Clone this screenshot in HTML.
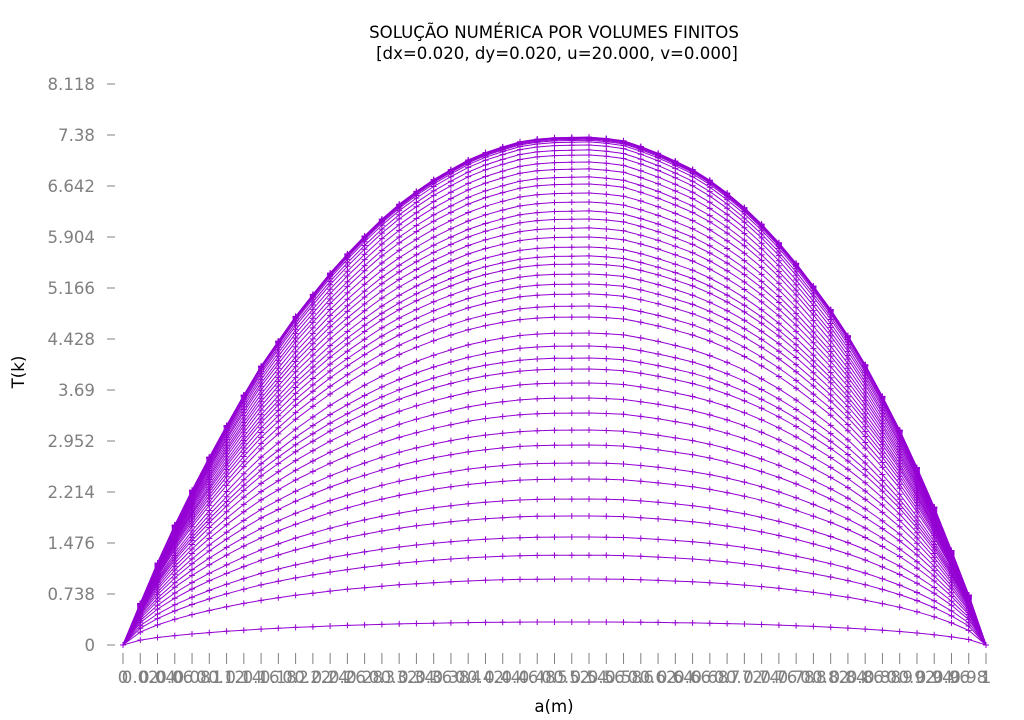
<!DOCTYPE html>
<html><head><meta charset="utf-8"><style>
html,body{margin:0;padding:0;background:#fff;}
svg{display:block;font-family:"DejaVu Sans","Liberation Sans",sans-serif;}
</style></head><body>
<svg id="chart" width="1024" height="720" viewBox="0 0 1024 720" xmlns="http://www.w3.org/2000/svg">
<text x="554" y="38" text-anchor="middle" font-size="16.6" fill="#000">SOLUÇÃO NUMÉRICA POR VOLUMES FINITOS</text>
<text x="557" y="59" text-anchor="middle" font-size="16.6" fill="#000">[dx=0.020, dy=0.020, u=20.000, v=0.000]</text>
<text x="0" y="0" transform="translate(24,372) rotate(-90)" text-anchor="middle" font-size="16.6" fill="#000">T(k)</text>
<text x="554" y="712" text-anchor="middle" font-size="16.6" fill="#000">a(m)</text>
<g id="axes"></g>
<g id="series"></g>
</svg>
<script>
const yTicks = [0, 0.738, 1.476, 2.214, 2.952, 3.69, 4.428, 5.166, 5.904, 6.642, 7.38, 8.118];
const yTickLabels = ["0","0.738","1.476","2.214","2.952","3.69","4.428","5.166","5.904","6.642","7.38","8.118"];
const xPositions = [0,0.02,0.04,0.06,0.08,0.1,0.12,0.14,0.16,0.18,0.2,0.22,0.24,0.26,0.28,0.3,0.32,0.34,0.36,0.38,0.4,0.42,0.44,0.46,0.48,0.5,0.52,0.54,0.56,0.58,0.6,0.62,0.64,0.66,0.68,0.7,0.72,0.74,0.76,0.78,0.8,0.82,0.84,0.86,0.88,0.9,0.92,0.94,0.96,0.98,1];
const xTickLabels = ["0","0.02","0.04","0.06","0.08","0.1","0.12","0.14","0.16","0.18","0.2","0.22","0.24","0.26","0.28","0.3","0.32","0.34","0.36","0.38","0.4","0.42","0.44","0.46","0.48","0.5","0.52","0.54","0.56","0.58","0.6","0.62","0.64","0.66","0.68","0.7","0.72","0.74","0.76","0.78","0.8","0.82","0.84","0.86","0.88","0.9","0.92","0.94","0.96","0.98","1"];
// steady-state (top) profile
const steadyProfile = [0,0.601,1.187,1.734,2.238,2.717,3.176,3.616,4.036,4.398,4.755,5.073,5.381,5.659,5.918,6.163,6.378,6.564,6.735,6.881,7.018,7.125,7.208,7.281,7.320,7.340,7.345,7.350,7.330,7.296,7.213,7.115,7.003,6.881,6.725,6.539,6.329,6.090,5.821,5.523,5.195,4.853,4.476,4.056,3.597,3.108,2.566,1.994,1.368,0.723,0];
// peak value of each time-step curve
const curvePeaks = [0.333,0.955,1.30,1.563,1.867,2.113,2.402,2.634,2.894,3.111,3.357,3.574,3.792,3.994,4.153,4.327,4.515,4.747,4.906,5.080,5.224,5.369,5.514,5.630,5.760,5.904,6.035,6.165,6.281,6.411,6.541,6.671,6.773,6.889,6.990,7.091,7.164,7.236,7.280,7.305,7.320,7.333,7.341,7.347,7.350];

const NS = "http://www.w3.org/2000/svg";
const X0 = 123, XW = 863, Y0 = 645, YS = 561/8.118;
function xs(x){ return X0 + x*XW; }
function ys(v){ return Y0 - v*YS; }
const axes = document.getElementById('axes');
const series = document.getElementById('series');

yTicks.forEach((t,i)=>{
  const ln = document.createElementNS(NS,'line');
  ln.setAttribute('x1',107); ln.setAttribute('x2',115);
  ln.setAttribute('y1',ys(t)); ln.setAttribute('y2',ys(t));
  ln.setAttribute('stroke','#808080'); ln.setAttribute('stroke-width','1');
  
  
  axes.appendChild(ln);
  const tx = document.createElementNS(NS,'text');
  tx.setAttribute('x',95); tx.setAttribute('y',ys(t)+6);
  tx.setAttribute('text-anchor','end'); tx.setAttribute('font-size','16.6'); tx.setAttribute('fill','#808080');
  tx.textContent = yTickLabels[i];
  
  
  axes.appendChild(tx);
});
xPositions.forEach((x,i)=>{
  const ln = document.createElementNS(NS,'line');
  ln.setAttribute('x1',xs(x)); ln.setAttribute('x2',xs(x));
  ln.setAttribute('y1',653); ln.setAttribute('y2',664);
  ln.setAttribute('stroke','#808080'); ln.setAttribute('stroke-width','1');
  
  
  axes.appendChild(ln);
  const tx = document.createElementNS(NS,'text');
  tx.setAttribute('x',xs(x)); tx.setAttribute('y',683);
  tx.setAttribute('text-anchor','middle'); tx.setAttribute('font-size','16.6'); tx.setAttribute('fill','#808080');
  tx.textContent = xTickLabels[i];
  
  
  axes.appendChild(tx);
});
const corner = document.createElementNS(NS,'path');
corner.setAttribute('d','M107 '+Y0+' H115 M'+X0+' 653 V664');
corner.setAttribute('stroke','#808080'); corner.setAttribute('fill','none');


axes.appendChild(corner);

const smax = Math.max(...steadyProfile);
curvePeaks.forEach((pk,k)=>{
  const p = 0.6 + 0.4*(pk/smax);
  const vals = steadyProfile.map(s => pk * Math.pow(Math.max(s,0)/smax, p));
  const pts = xPositions.map((x,i)=>[xs(x), ys(vals[i])]);
  const pl = document.createElementNS(NS,'polyline');
  pl.setAttribute('points', pts.map(q=>q[0].toFixed(1)+','+q[1].toFixed(1)).join(' '));
  pl.setAttribute('fill','none'); pl.setAttribute('stroke','#9400d3'); pl.setAttribute('stroke-width','1');
  
  
  series.appendChild(pl);
  let d='';
  pts.forEach(q=>{ d += 'M'+(q[0]-3).toFixed(1)+' '+q[1].toFixed(1)+'h6M'+q[0].toFixed(1)+' '+(q[1]-3).toFixed(1)+'v6'; });
  const mk = document.createElementNS(NS,'path');
  mk.setAttribute('d', d); mk.setAttribute('stroke','#9400d3'); mk.setAttribute('stroke-width','1'); mk.setAttribute('fill','none');
  
  
  series.appendChild(mk);
});
</script>
</body></html>
